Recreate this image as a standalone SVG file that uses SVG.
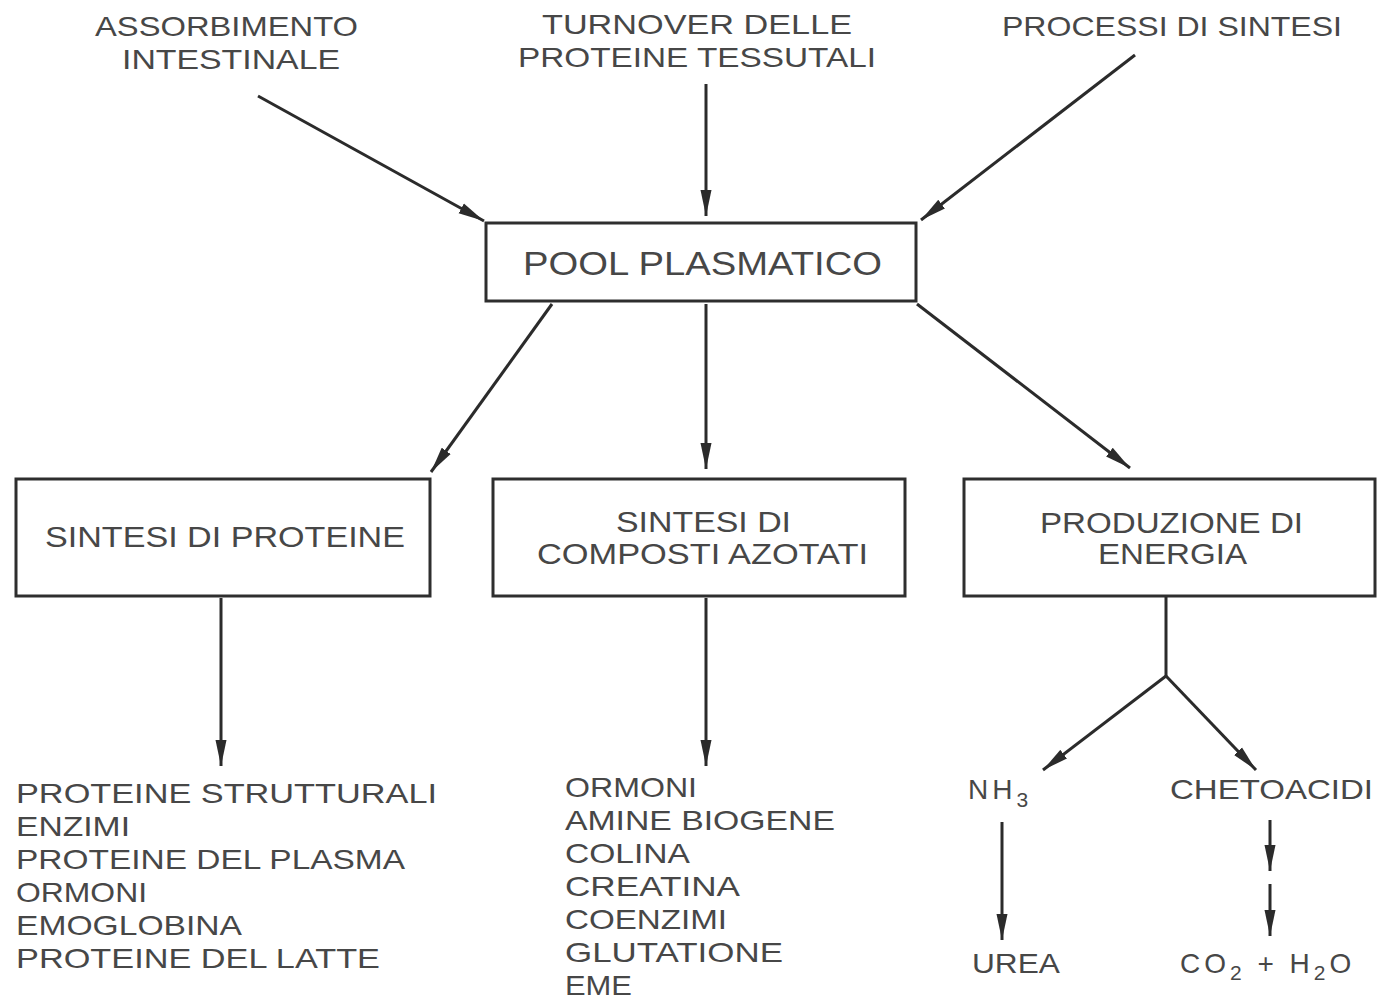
<svg xmlns="http://www.w3.org/2000/svg" width="1380" height="999" viewBox="0 0 1380 999">
<defs>
<marker id="ah" markerUnits="userSpaceOnUse" markerWidth="28" markerHeight="12" refX="26" refY="6" orient="auto">
<path d="M0,0.5 L26,6 L0,11.5 z" fill="#2b2b2b"/>
</marker>
<style>
text{font-family:"Liberation Sans",Arial,sans-serif;fill:#474747;}
.t{font-size:28px;}
.p{font-size:34px;}
.b{font-size:29px;}
.l{font-size:28px;}
.box{fill:#fff;stroke:#2e2e2e;stroke-width:3;}
.c{stroke:#2b2b2b;stroke-width:3;fill:none;}
.a{marker-end:url(#ah);}
</style>
</defs>
<rect width="1380" height="999" fill="#fff"/>

<g id="src-assorbimento">
<text class="t" x="95" y="36" textLength="263" lengthAdjust="spacingAndGlyphs">ASSORBIMENTO</text>
<text class="t" x="122" y="69" textLength="218" lengthAdjust="spacingAndGlyphs">INTESTINALE</text>
</g>
<g id="src-turnover">
<text class="t" x="542" y="34" textLength="310" lengthAdjust="spacingAndGlyphs">TURNOVER DELLE</text>
<text class="t" x="518" y="67" textLength="358" lengthAdjust="spacingAndGlyphs">PROTEINE TESSUTALI</text>
</g>
<g id="src-processi">
<text class="t" x="1002" y="36" textLength="340" lengthAdjust="spacingAndGlyphs">PROCESSI DI SINTESI</text>
</g>

<g id="pool">
<rect class="box" x="486" y="223" width="430" height="78"/>
<text class="p" x="523" y="275" textLength="359" lengthAdjust="spacingAndGlyphs">POOL PLASMATICO</text>
</g>

<g id="sintesi-proteine">
<rect class="box" x="16" y="479" width="414" height="117"/>
<text class="b" x="45" y="547" textLength="360" lengthAdjust="spacingAndGlyphs">SINTESI DI PROTEINE</text>
</g>
<g id="sintesi-composti">
<rect class="box" x="493" y="479" width="412" height="117"/>
<text class="b" x="616" y="532" textLength="175" lengthAdjust="spacingAndGlyphs">SINTESI DI</text>
<text class="b" x="537" y="564" textLength="331" lengthAdjust="spacingAndGlyphs">COMPOSTI AZOTATI</text>
</g>
<g id="produzione-energia">
<rect class="box" x="964" y="479" width="411" height="117"/>
<text class="b" x="1040" y="533" textLength="263" lengthAdjust="spacingAndGlyphs">PRODUZIONE DI</text>
<text class="b" x="1098" y="564" textLength="149" lengthAdjust="spacingAndGlyphs">ENERGIA</text>
</g>

<g id="list-proteine">
<text class="l" x="16" y="803" textLength="421" lengthAdjust="spacingAndGlyphs">PROTEINE STRUTTURALI</text>
<text class="l" x="16" y="836" textLength="114" lengthAdjust="spacingAndGlyphs">ENZIMI</text>
<text class="l" x="16" y="869" textLength="389" lengthAdjust="spacingAndGlyphs">PROTEINE DEL PLASMA</text>
<text class="l" x="16" y="902" textLength="131" lengthAdjust="spacingAndGlyphs">ORMONI</text>
<text class="l" x="16" y="935" textLength="226" lengthAdjust="spacingAndGlyphs">EMOGLOBINA</text>
<text class="l" x="16" y="968" textLength="364" lengthAdjust="spacingAndGlyphs">PROTEINE DEL LATTE</text>
</g>

<g id="list-composti">
<text class="l" x="565" y="797" textLength="132" lengthAdjust="spacingAndGlyphs">ORMONI</text>
<text class="l" x="565" y="830" textLength="270" lengthAdjust="spacingAndGlyphs">AMINE BIOGENE</text>
<text class="l" x="565" y="863" textLength="125" lengthAdjust="spacingAndGlyphs">COLINA</text>
<text class="l" x="565" y="896" textLength="175" lengthAdjust="spacingAndGlyphs">CREATINA</text>
<text class="l" x="565" y="929" textLength="162" lengthAdjust="spacingAndGlyphs">COENZIMI</text>
<text class="l" x="565" y="962" textLength="218" lengthAdjust="spacingAndGlyphs">GLUTATIONE</text>
<text class="l" x="565" y="995" textLength="67" lengthAdjust="spacingAndGlyphs">EME</text>
</g>

<g id="nh3">
<text class="l" x="968" y="799" letter-spacing="4">NH<tspan font-size="21" dy="8">3</tspan></text>
</g>
<g id="chetoacidi">
<text class="l" x="1170" y="799" textLength="203" lengthAdjust="spacingAndGlyphs">CHETOACIDI</text>
</g>
<g id="urea">
<text class="l" x="972" y="973" textLength="88" lengthAdjust="spacingAndGlyphs">UREA</text>
</g>
<g id="co2-h2o">
<text class="l" x="1180" y="973" letter-spacing="4">CO<tspan font-size="21" dy="7">2</tspan><tspan dy="-7"> + H</tspan><tspan font-size="21" dy="7">2</tspan><tspan dy="-7">O</tspan></text>
</g>

<g id="connectors">
<line class="c a" x1="258" y1="96" x2="484" y2="221"/>
<line class="c a" x1="706" y1="84" x2="706" y2="216"/>
<line class="c a" x1="1135" y1="55" x2="921" y2="220"/>
<line class="c a" x1="552" y1="304" x2="431" y2="472"/>
<line class="c a" x1="706" y1="304" x2="706" y2="469"/>
<line class="c a" x1="917" y1="304" x2="1130" y2="468"/>
<line class="c a" x1="221" y1="598" x2="221" y2="766"/>
<line class="c a" x1="706" y1="598" x2="706" y2="766"/>
<line class="c" x1="1166" y1="597" x2="1166" y2="676"/>
<line class="c a" x1="1166" y1="676" x2="1043" y2="770"/>
<line class="c a" x1="1166" y1="676" x2="1256" y2="770"/>
<line class="c a" x1="1002" y1="822" x2="1002" y2="940"/>
<line class="c a" x1="1270" y1="820" x2="1270" y2="871"/>
<line class="c a" x1="1270" y1="884" x2="1270" y2="936"/>
</g>
</svg>
